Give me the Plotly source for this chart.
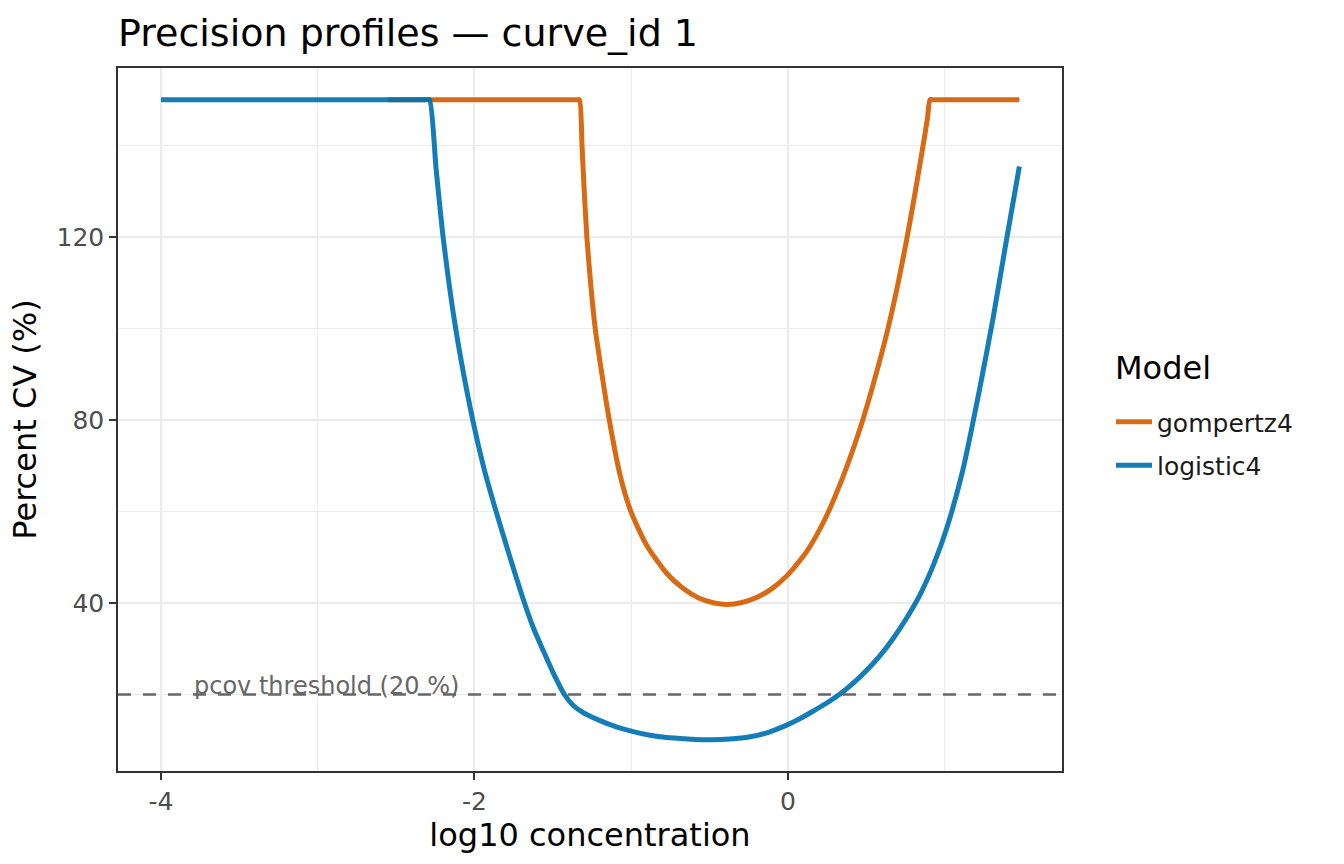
import plotly.graph_objects as go

# ---------------- data ----------------
gompertz4_x = [-2.552, -1.345, -1.330, -1.314, -1.299, -1.282, -1.258, -1.228, -1.190,
               -1.140, -1.070, -1.000, -0.900, -0.774, -0.670, -0.570, -0.470, -0.390,
               -0.300, -0.200, -0.100, 0.0, 0.120, 0.234, 0.350, 0.468, 0.560,
               0.638, 0.700, 0.755, 0.810, 0.862, 0.890, 0.906, 0.925, 1.476]
gompertz4_y = [150, 150, 150, 140, 129.5, 119.5, 109.5, 99.5, 90.7,
               80, 67.8, 59.8, 52.5, 46.5, 43.2, 41.1, 40.0, 39.7,
               40.05, 41.2, 43.2, 46.2, 51.3, 58.2, 67.5, 79.0, 89.8,
               100, 109.5, 119, 129.5, 140, 146.0, 150, 150, 150]

logistic4_x = [-4.0, -2.310, -2.287, -2.245, -2.200, -2.120, -2.011, -1.940,
               -1.862, -1.770, -1.681, -1.620, -1.564, -1.500, -1.426, -1.370, -1.300,
               -1.199, -1.100, -0.987, -0.880, -0.774, -0.640, -0.498, -0.370, -0.242,
               -0.120, -0.008, 0.080, 0.162, 0.250, 0.332, 0.420, 0.502, 0.590, 0.672,
               0.760, 0.842, 0.930, 1.012, 1.115, 1.221, 1.306, 1.391, 1.476]
logistic4_y = [150, 150, 150, 135, 120, 100, 80, 69.5,
               60, 49.6, 40, 34.2, 29.8, 24.9, 20, 17.6, 15.9,
               14.3, 13.0, 11.9, 11.1, 10.6, 10.3, 10.1, 10.25, 10.75,
               11.8, 13.3, 14.8, 16.4, 18.2, 20.1, 22.6, 25.3, 28.6, 32.3,
               36.9, 41.8, 48.5, 56.3, 69.0, 86.5, 101.8, 118.8, 135.4]

threshold = 20
threshold_label = "pcov threshold (20 %)"
threshold_label_x = -3.80

legend_title = "Model"

x_tickvals = [-4, -2, 0]
x_ticktext = ["-4", "-2", "0"]
y_tickvals = [40, 80, 120]
y_ticktext = ["40", "80", "120"]

# ---------------- figure ----------------
FONT = "DejaVu Sans"
ORANGE = "#D55E00"
BLUE = "#0072B2"
PLOT_L, PLOT_R, PLOT_T, PLOT_B = 118, 1062, 68, 771
PW, PH = PLOT_R - PLOT_L, PLOT_B - PLOT_T

fig = go.Figure()
fig.add_trace(go.Scatter(x=gompertz4_x, y=gompertz4_y, mode="lines", name="gompertz4",
                         legendgroup="g", opacity=0.92,
                         line=dict(color=ORANGE, width=5, shape="spline", smoothing=0.6)))
fig.add_trace(go.Scatter(x=logistic4_x, y=logistic4_y, mode="lines", name="logistic4",
                         legendgroup="l", opacity=0.92,
                         line=dict(color=BLUE, width=5, shape="spline", smoothing=0.6)))

fig.add_hline(y=threshold, line=dict(color="#666666", width=2.6, dash="13px,12px"),
              layer="above")
fig.add_annotation(x=threshold_label_x, y=threshold, text=threshold_label,
                   xref="x", yref="y", showarrow=False, xanchor="left", yanchor="bottom",
                   yshift=-7, font=dict(family=FONT, size=24, color="#666666"))

# legend title as text placed above the legend entries
fig.add_annotation(x=(1113 - PLOT_L) / PW, y=(PLOT_B - 368) / PH, xref="paper", yref="paper",
                   text=legend_title, showarrow=False, xanchor="left", yanchor="middle",
                   font=dict(family=FONT, size=32, color="black"))

fig.update_layout(
    width=1344, height=864,
    margin=dict(l=PLOT_L, r=1344 - PLOT_R, t=PLOT_T, b=864 - PLOT_B),
    paper_bgcolor="white", plot_bgcolor="white",
    font=dict(family=FONT, color="black"),
    title=dict(text="Precision profiles — curve_id 1", x=118 / 1344, xref="container",
               xanchor="left", y=1 - 33 / 864, yref="container", yanchor="middle",
               font=dict(family=FONT, size=38, color="black")),
    legend=dict(font=dict(family=FONT, size=25, color="#1a1a1a"),
                x=(1111 - PLOT_L) / PW, xanchor="left",
                y=(PLOT_B - 443.5) / PH, yanchor="middle",
                tracegroupgap=8, itemwidth=36, bgcolor="rgba(0,0,0,0)"),
    showlegend=True,
)

fig.update_xaxes(
    range=[-4.274, 1.748], tickmode="array", tickvals=x_tickvals, ticktext=x_ticktext,
    showgrid=True, gridcolor="#EBEBEB", gridwidth=2.4,
    minor=dict(dtick=1, tick0=-4, showgrid=True, gridcolor="#EBEBEB", gridwidth=1.3, ticks=""),
    zeroline=False, showline=True, linecolor="#333333", linewidth=1.5, mirror=True,
    ticks="outside", ticklen=7, tickwidth=1.5, tickcolor="#333333",
    tickfont=dict(family=FONT, size=25, color="#4D4D4D"),
    title=dict(text="log10 concentration", font=dict(family=FONT, size=32, color="black"),
               standoff=5),
)
fig.update_yaxes(
    range=[3.28, 156.94], tickmode="array", tickvals=y_tickvals, ticktext=y_ticktext,
    showgrid=True, gridcolor="#EBEBEB", gridwidth=2.4,
    minor=dict(dtick=20, tick0=0, showgrid=True, gridcolor="#EBEBEB", gridwidth=1.3, ticks=""),
    zeroline=False, showline=True, linecolor="#333333", linewidth=1.5, mirror=True,
    ticks="outside", ticklen=7, tickwidth=1.5, tickcolor="#333333",
    tickfont=dict(family=FONT, size=25, color="#4D4D4D"),
    title=dict(text="Percent CV (%)", font=dict(family=FONT, size=32, color="black"),
               standoff=10),
)

fig.write_html("out.html")
